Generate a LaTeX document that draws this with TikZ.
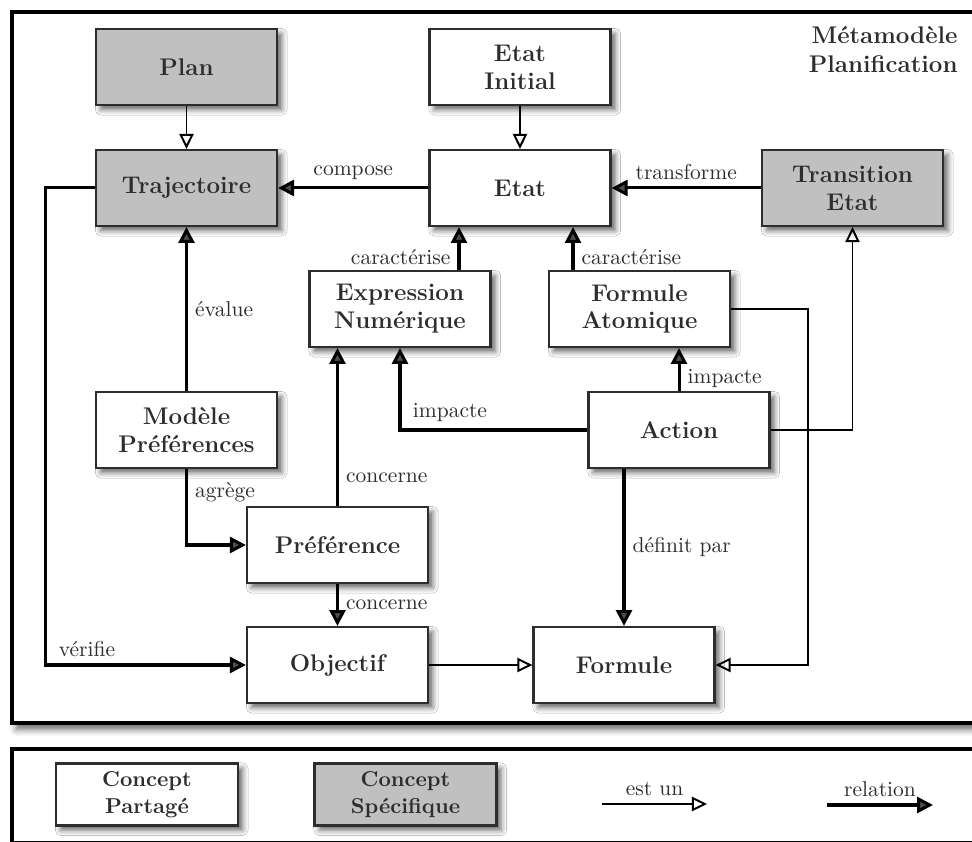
\documentclass[tikz,border=0pt]{standalone}
\usepackage{fontspec}
\usetikzlibrary{arrows.meta,shadows.blur,calc}
\definecolor{specfill}{RGB}{192,192,192}
\definecolor{ink}{RGB}{45,45,45}

\begin{document}
\begin{tikzpicture}[x=0.465pt,y=-0.465pt,
  boxshadow/.style={blur shadow={shadow xshift=2.2pt,shadow yshift=-2.2pt,shadow blur radius=2.5pt,shadow opacity=60}},
  concept/.style={draw=ink,line width=1pt,fill=white,minimum width=84.2pt,minimum height=35.3pt,
    inner sep=0pt,align=center,text=ink,font=\fontsize{11.2}{13}\selectfont\bfseries,boxshadow},
  specific/.style={concept,fill=specfill},
  legendbox/.style={concept,minimum width=84.6pt,minimum height=28.8pt,font=\fontsize{10}{12.5}\selectfont\bfseries},
  rel/.style={line width=1.4pt,-{Triangle[length=7.4pt,width=7.4pt]}},
  isa/.style={line width=0.9pt,-{Triangle[open,length=7pt,width=6.6pt]}},
  lbl/.style={font=\fontsize{10}{12}\selectfont,text=ink},
  panel/.style={draw=black,line width=1.9pt,fill=white,
    blur shadow={shadow xshift=2pt,shadow yshift=-3pt,shadow blur radius=3pt,shadow opacity=60}}
]
\useasboundingbox (0,0) rectangle (972,842);
\clip (0,0) rectangle (972,842);

% panels
\draw[panel] (12,12) rectangle (1000,723);
\draw[panel] (12,749) rectangle (1000,843);

\node[anchor=north east,inner sep=0pt,align=right,text=ink,font=\fontsize{11.2}{13.4}\selectfont\bfseries]
  (title) at (958,26) {Métamodèle\\Planification};

% concepts
\node[specific] (plan)   at (186.5,67)  {Plan};
\node[concept]  (init)   at (520,67)    {Etat\\Initial};
\node[specific] (traj)   at (186.5,188) {Trajectoire};
\node[concept]  (etat)   at (520,188)   {Etat};
\node[specific] (trans)  at (852.5,188) {Transition\\Etat};
\node[concept]  (expr)   at (400,309)   {Expression\\Numérique};
\node[concept]  (fatom)  at (639.5,309) {Formule\\Atomique};
\node[concept]  (modele) at (186.5,430) {Modèle\\Préférences};
\node[concept]  (action) at (679,430)   {Action};
\node[concept]  (pref)   at (337.5,545) {Préférence};
\node[concept]  (obj)    at (337.5,665) {Objectif};
\node[concept]  (formule) at (624,665)  {Formule};

% anchor points on the box edges
\coordinate (exprtop)  at ($(expr.north)+(59,0)$);
\coordinate (fatomtop) at ($(fatom.north)+(-66.5,0)$);
\coordinate (actbot)   at ($(action.south)+(-55,0)$);

% is-a links
\draw[isa] (plan) -- (traj);
\draw[isa] (init) -- (etat);
\draw[isa] (obj) -- (formule);
\draw[isa] (action.east) -| (trans.south);
\draw[isa] (fatom.east) -- ++(77,0) |- (formule.east);

% relations
\draw[rel] (etat) -- node[lbl,above] (lcompose) {compose} (traj);
\draw[rel] (trans) -- node[lbl,above] (ltransforme) {transforme} (etat);
\draw[rel] (exprtop) -- node[lbl,left,pos=0.3] (lcar1) {caractérise} (exprtop |- etat.south);
\draw[rel] (fatomtop) -- node[lbl,right,pos=0.3] (lcar2) {caractérise} (fatomtop |- etat.south);
\draw[rel] (modele.north) -- node[lbl,right] (levalue) {évalue} (traj.south);
\draw[rel] (modele.south) |- node[lbl,right,pos=0.15] (lagrege) {agrège} (pref.west);
\draw[rel] (pref.north) -- node[lbl,right,pos=0.18] (lconc1) {concerne} (pref.north |- expr.south);
\draw[rel] (pref.south) -- node[lbl,right] (lconc2) {concerne} (obj.north);
\draw[rel] (action.west) -| node[lbl,anchor=south west,pos=0.5,xshift=2pt] (limp1) {impacte} (expr.south);
\draw[rel] (action.north) -- node[lbl,right,pos=0.3] (limp2) {impacte} (fatom.south -| action.north);
\draw[rel] (actbot) -- node[lbl,right] (ldef) {définit par} (actbot |- formule.north);
\draw[rel] (traj.west) -- ++(-49,0) |- node[lbl,anchor=south west,pos=0.5,xshift=2pt] (lverif) {vérifie} (obj.west);

% legend
\node[legendbox] (lgshared) at (147,794.5) {Concept\\Partagé};
\node[legendbox,fill=specfill] (lgspec) at (405.5,794.5) {Concept\\Spécifique};
\coordinate (isaA) at (602,804);
\coordinate (isaB) at (707,804);
\draw[isa] (isaA) -- node[lbl,above] (lgisa) {est un} (isaB);
\coordinate (relA) at (827,805);
\coordinate (relB) at (933,805);
\draw[rel] (relA) -- node[lbl,above] (lgrel) {relation} (relB);
\end{tikzpicture}
\end{document}
